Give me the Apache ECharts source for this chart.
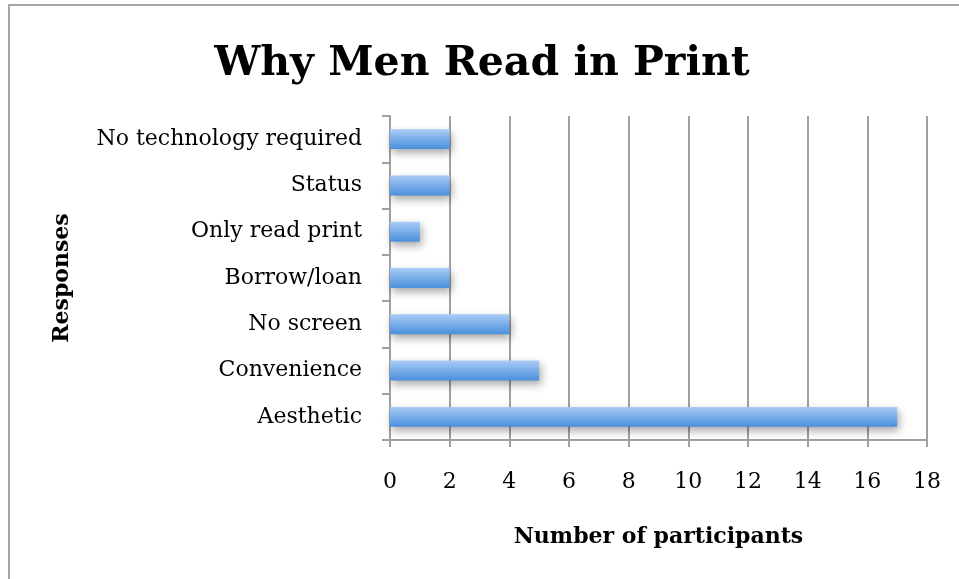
<!DOCTYPE html>
<html>
<head>
<meta charset="utf-8">
<script src="https://cdn.jsdelivr.net/npm/echarts@6/dist/echarts.min.js"></script>
<style>
html,body{margin:0;padding:0;background:#fff;}
#c{width:959px;height:579px;}
</style>
</head>
<body>
<div id="c"></div>
<script>
var categories = ['Aesthetic', 'Convenience', 'No screen', 'Borrow/loan', 'Only read print', 'Status', 'No technology required'];
var values = [17, 5, 4, 2, 1, 2, 2];
var xTicks = [0, 2, 4, 6, 8, 10, 12, 14, 16, 18];

var serif = '"DejaVu Serif", "Liberation Serif", serif';
var chart = echarts.init(document.getElementById('c'), null, {renderer: 'canvas'});
chart.setOption({
  animation: false,
  backgroundColor: '#fff',
  title: {
    text: 'Why Men Read in Print',
    left: 477, top: 39, textAlign: 'center',
    textStyle: {fontFamily: serif, fontWeight: 'bold', fontSize: 41, color: '#000'}
  },
  graphic: [{
    type: 'polyline',
    shape: {points: [[9, 579], [9, 5], [959, 5]]},
    style: {stroke: '#a6a6a6', lineWidth: 2, fill: null}
  }],
  grid: {left: 390, right: 32, top: 116, bottom: 139, containLabel: false},
  xAxis: {
    type: 'value',
    min: xTicks[0], max: xTicks[xTicks.length - 1], interval: 2,
    name: 'Number of participants',
    nameLocation: 'middle', nameGap: 86,
    nameTextStyle: {fontFamily: serif, fontWeight: 'bold', fontSize: 22, color: '#000'},
    axisLine: {show: true, lineStyle: {color: '#a0a0a0', width: 2}},
    axisTick: {show: true, length: 7, lineStyle: {color: '#a0a0a0', width: 2}},
    splitLine: {show: true, lineStyle: {color: '#a0a0a0', width: 2}},
    axisLabel: {fontFamily: serif, fontSize: 22, color: '#000', margin: 31}
  },
  yAxis: {
    type: 'category',
    data: categories,
    name: 'Responses',
    nameLocation: 'middle', nameGap: 317, nameRotate: 90,
    nameTextStyle: {fontFamily: serif, fontWeight: 'bold', fontSize: 22, color: '#000'},
    axisLine: {show: true, lineStyle: {color: '#a0a0a0', width: 2}},
    axisTick: {show: true, length: 8, lineStyle: {color: '#a0a0a0', width: 2}},
    splitLine: {show: false},
    axisLabel: {fontFamily: serif, fontSize: 22, color: '#000', margin: 28}
  },
  series: [{
    type: 'bar',
    data: values,
    barWidth: '43%',
    itemStyle: {
      color: new echarts.graphic.LinearGradient(0, 0, 0, 1, [
        {offset: 0, color: '#a9ccf6'},
        {offset: 1, color: '#4a8fdc'}
      ]),
      shadowColor: 'rgba(0,0,0,0.35)',
      shadowBlur: 8,
      shadowOffsetX: 2,
      shadowOffsetY: 4
    }
  }]
});
</script>
</body>
</html>
